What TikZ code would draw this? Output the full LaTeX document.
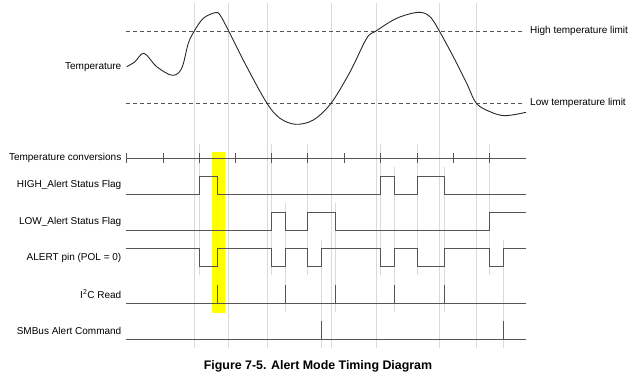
\documentclass[tikz,border=0pt]{standalone}
\usepackage{fontspec}
\setmainfont{Liberation Sans}
\usetikzlibrary{positioning}
\definecolor{guidegray}{RGB}{218,218,218}
\definecolor{tracegray}{RGB}{85,85,85}
\definecolor{curvegray}{RGB}{40,40,40}
\definecolor{markyellow}{RGB}{255,255,0}

\begin{document}
\begin{tikzpicture}[x=1pt, y=-1pt, every node/.style={font=\fontsize{10}{12}\selectfont, inner sep=0pt},
    guide/.style={draw=guidegray, line width=1pt},
    trace/.style={draw=tracegray, line width=1pt},
    limit/.style={draw=tracegray, line width=0.8pt, dash pattern=on 4pt off 3pt}]
    \useasboundingbox (0,0) rectangle (640,381);

    % highlighted read
    \fill[markyellow] (212,152.3) rectangle (225,313.3);

    % guide lines: threshold crossings
    \foreach \x in {194.3,228.7,267,331,376,439.3,476.3}
        \draw[guide] (\x,3) -- (\x,347.5);
    % guide lines: events
    \foreach \x in {199,271.7,307,380.7,417,489.7}
        \draw[guide] (\x,144) -- (\x,275);
    \foreach \x in {217,394.3,444.3}
        \draw[guide] (\x,167.3) -- (\x,311.7);
    \foreach \x in {285.3,335.3}
        \draw[guide] (\x,203.3) -- (\x,311.7);
    \foreach \x in {321.7,503.3}
        \draw[guide] (\x,240) -- (\x,348.3);

    % temperature
    \draw[limit] (126,31) -- (523.5,31);
    \draw[limit] (126,103.3) -- (523.5,103.3);
    \node[anchor=west] (hilim) at (530,31) {High temperature limit};
    \node[anchor=west] (lolim) at (530,103.3) {Low temperature limit};
    \node[anchor=east] (temp) at (121.5,67) {Temperature};
    \draw[curvegray, line width=0.9pt] plot[smooth, tension=0.55] coordinates {
        (126.7,66.7) (135,61.7) (144,53.3) (156.7,66.7) (172.3,75.3) (181.7,68.3)
        (188.3,43.3) (194.3,31) (203.3,18.3) (215,12.7) (220,15) (228.7,31)
        (246.7,66.7) (267,103.3) (280,118.3) (295.7,124.3) (313.3,120) (331,103.3)
        (350,72) (366.7,38.3) (376,31) (396.7,18.3) (418.3,12.3) (430,16.7)
        (439.3,31) (453.3,56.7) (466.7,83.3) (476.3,103.3) (490,111.7) (505,115.7) (526,112.3)};

    % conversions
    \node[anchor=east] (conv) at (121.5,158) {Temperature conversions};
    \draw[trace] (126.7,158) -- (526,158);
    \foreach \x in {126.7,163,199,235.3,271.7,307,344.3,380.7,417,453.3,489.7}
        \draw[trace] (\x,153) -- (\x,163);

    % HIGH flag
    \node[anchor=east] (hiflag) at (121.5,185) {HIGH\_Alert Status Flag};
    \draw[trace] (126,194) -- (199,194) -- (199,176) -- (217,176) -- (217,194)
        -- (380.7,194) -- (380.7,176) -- (394.3,176) -- (394.3,194)
        -- (417,194) -- (417,176) -- (444.3,176) -- (444.3,194) -- (526,194);

    % LOW flag
    \node[anchor=east] (loflag) at (121.5,221.7) {LOW\_Alert Status Flag};
    \draw[trace] (126,230.5) -- (271.7,230.5) -- (271.7,212.3) -- (285.3,212.3) -- (285.3,230.5)
        -- (307,230.5) -- (307,212.3) -- (335.3,212.3) -- (335.3,230.5)
        -- (489.7,230.5) -- (489.7,212.3) -- (526,212.3);

    % ALERT pin
    \node[anchor=east] (alert) at (121.5,257.5) {ALERT pin (POL = 0)};
    \draw[trace] (126,248.5) -- (199,248.5) -- (199,266.7) -- (217,266.7) -- (217,248.5)
        -- (271.7,248.5) -- (271.7,266.7) -- (285.3,266.7) -- (285.3,248.5)
        -- (307,248.5) -- (307,266.7) -- (321.7,266.7) -- (321.7,248.5)
        -- (380.7,248.5) -- (380.7,266.7) -- (394.3,266.7) -- (394.3,248.5)
        -- (417,248.5) -- (417,266.7) -- (444.3,266.7) -- (444.3,248.5)
        -- (489.7,248.5) -- (489.7,266.7) -- (503.3,266.7) -- (503.3,248.5) -- (526,248.5);

    % I2C read
    \node[anchor=east] (i2c) at (121.5,294) {I\textsuperscript{2}C Read};
    \draw[trace] (126,303) -- (526,303);
    \foreach \x in {217,285.3,335.3,394.3,444.3}
        \draw[trace] (\x,303) -- (\x,285);

    % SMBus alert
    \node[anchor=east] (smbus) at (121.5,330.5) {SMBus Alert Command};
    \draw[trace] (126,339) -- (526,339);
    \foreach \x in {321.7,503.3}
        \draw[trace] (\x,339) -- (\x,321);

    \node[font=\bfseries\fontsize{12.4}{14}\selectfont] (title) at (318,366.5) {Figure 7-5. Alert Mode Timing Diagram};
\end{tikzpicture}
\end{document}
